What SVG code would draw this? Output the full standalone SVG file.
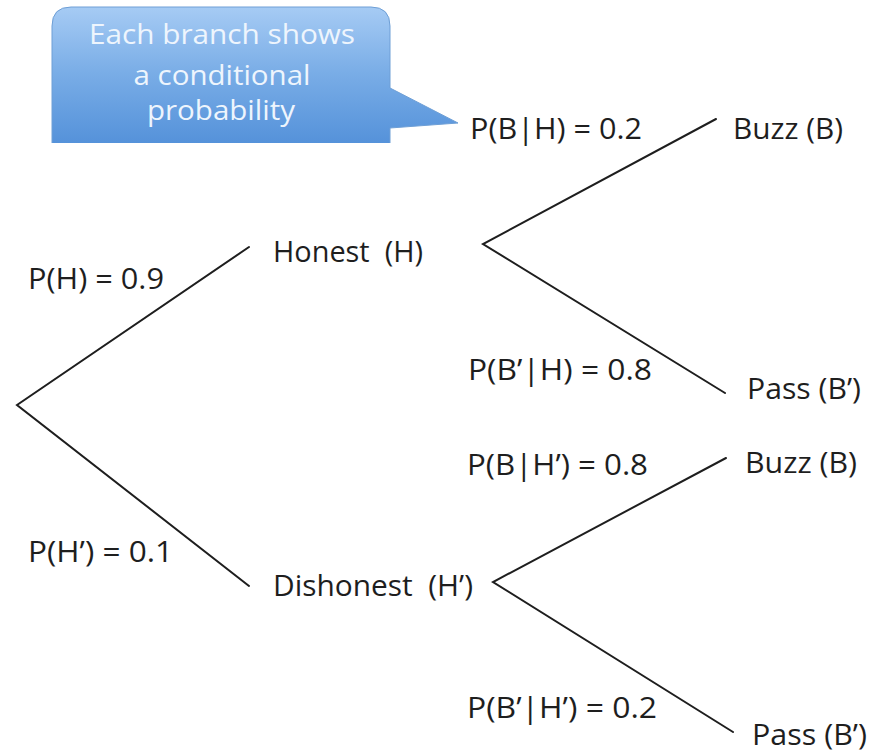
<svg xmlns="http://www.w3.org/2000/svg" width="871" height="755" viewBox="0 0 871 755">
  <style>
    .lbl { font-family: "Open Sans", "Liberation Sans", sans-serif; font-size: 29px; fill: #1e1e1e; }
    .note { font-family: "Open Sans", "Liberation Sans", sans-serif; font-size: 28px; fill: #eef5fd; text-anchor: middle; }
    .branch { stroke: #1e1e1e; stroke-width: 2; fill: none; stroke-linecap: round; }
  </style>
  <defs>
    <linearGradient id="calloutFill" x1="0" y1="0" x2="0" y2="1">
      <stop offset="0" stop-color="#a6cbf4"/>
      <stop offset="0.5" stop-color="#78ace6"/>
      <stop offset="1" stop-color="#5592da"/>
    </linearGradient>
  </defs>
  <rect width="871" height="755" fill="#ffffff"/>

  <!-- callout note -->
  <g id="callout">
    <path d="M52,143 V26 Q52,7 71,7 H371 Q390,7 390,26 V88 L458,123 L390,128 V143 Z" fill="url(#calloutFill)"/>
    <path d="M52,143 V26 Q52,7 71,7 H371 Q390,7 390,26 V88 L458,123 L390,128 V143" fill="none" stroke="#6e9fd6" stroke-width="1"/>
    <text class="note" x="222" y="44" textLength="266" lengthAdjust="spacingAndGlyphs">Each branch shows</text>
    <text class="note" x="222" y="85" textLength="177" lengthAdjust="spacingAndGlyphs">a conditional</text>
    <text class="note" x="221" y="120" textLength="148" lengthAdjust="spacingAndGlyphs">probability</text>
  </g>

  <!-- tree branches -->
  <g id="connectors">
    <path class="branch" d="M249,247 L17,405 L249,586"/>
    <path class="branch" d="M716,119 L483,244 L725,393"/>
    <path class="branch" d="M726,458 L493,582 L733,732"/>
  </g>

  <!-- branch probabilities -->
  <g id="prob-labels">
    <text class="lbl" x="28" y="289" textLength="136" lengthAdjust="spacingAndGlyphs">P(H) = 0.9</text>
    <text class="lbl" x="28" y="562" textLength="145" lengthAdjust="spacingAndGlyphs">P(H’) = 0.1</text>
    <text class="lbl" x="470" y="139" textLength="172" lengthAdjust="spacingAndGlyphs">P(B|H) = 0.2</text>
    <text class="lbl" x="468" y="380" textLength="184" lengthAdjust="spacingAndGlyphs">P(B’|H) = 0.8</text>
    <text class="lbl" x="467" y="475" textLength="181" lengthAdjust="spacingAndGlyphs">P(B|H’) = 0.8</text>
    <text class="lbl" x="467" y="718" textLength="190" lengthAdjust="spacingAndGlyphs">P(B’|H’) = 0.2</text>
  </g>

  <!-- outcome nodes -->
  <g id="node-honest">
    <text class="lbl" x="273" y="262" textLength="150" lengthAdjust="spacingAndGlyphs" xml:space="preserve">Honest  (H)</text>
  </g>
  <g id="node-dishonest">
    <text class="lbl" x="273" y="596" textLength="200" lengthAdjust="spacingAndGlyphs" xml:space="preserve">Dishonest  (H’)</text>
  </g>
  <g id="node-buzz-h">
    <text class="lbl" x="733" y="139" textLength="110" lengthAdjust="spacingAndGlyphs">Buzz (B)</text>
  </g>
  <g id="node-pass-h">
    <text class="lbl" x="747" y="399" textLength="114" lengthAdjust="spacingAndGlyphs">Pass (B’)</text>
  </g>
  <g id="node-buzz-hp">
    <text class="lbl" x="745" y="473" textLength="112" lengthAdjust="spacingAndGlyphs">Buzz (B)</text>
  </g>
  <g id="node-pass-hp">
    <text class="lbl" x="752" y="745" textLength="115" lengthAdjust="spacingAndGlyphs">Pass (B’)</text>
  </g>
</svg>
